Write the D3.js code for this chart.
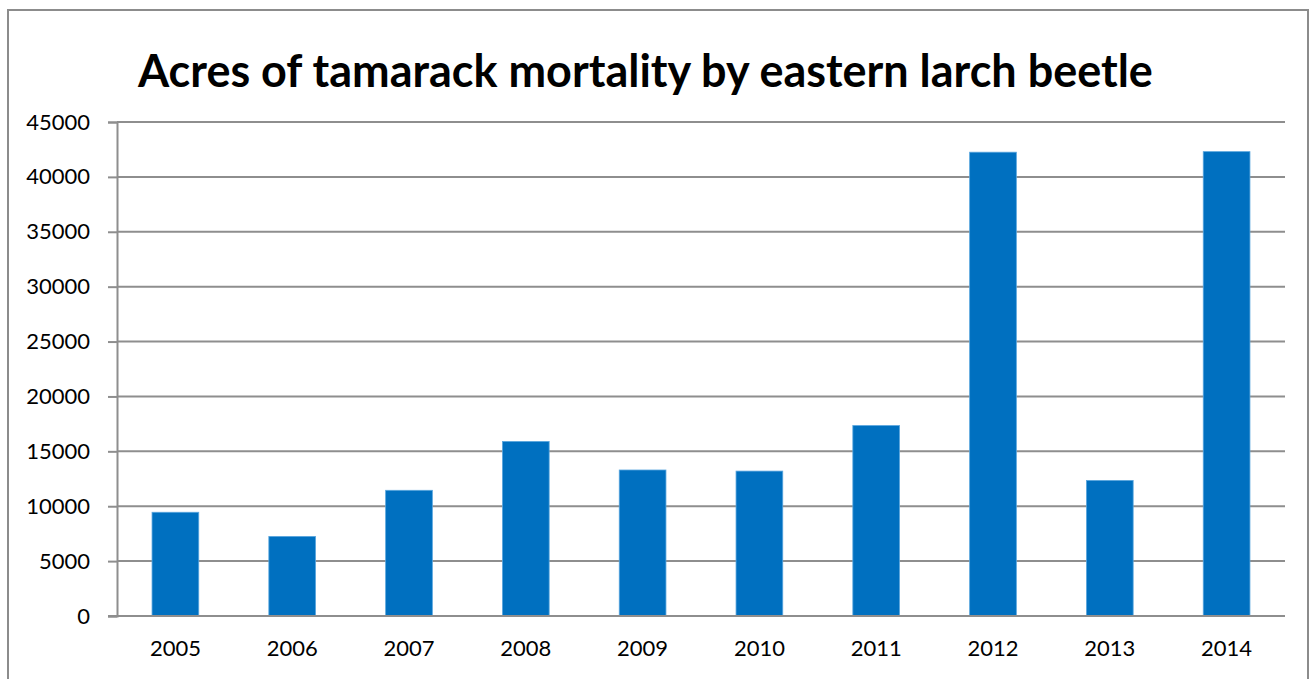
<!DOCTYPE html>
<html>
<head>
<meta charset="utf-8">
<script src="https://cdn.jsdelivr.net/npm/d3@7"></script>
<style>
  html, body { margin: 0; padding: 0; background: #fff; }
  svg { display: block; }
  text { font-family: Lato, "Open Sans", "Liberation Sans", sans-serif; fill: #000; }
</style>
</head>
<body>
<svg id="chart" width="1314" height="679"></svg>
<script>
// Acres of tamarack killed by eastern larch beetle, per survey year
const years = ["2005", "2006", "2007", "2008", "2009", "2010", "2011", "2012", "2013", "2014"];
const acres = [9450, 7250, 11450, 15900, 13300, 13200, 17350, 42250, 12350, 42300];
const yTicks = [0, 5000, 10000, 15000, 20000, 25000, 30000, 35000, 40000, 45000];
const titleText = "Acres of tamarack mortality by eastern larch beetle";

const svg = d3.select("#chart");
const W = 1314, H = 679;
const plot = { left: 117, right: 1285, top: 122, bottom: 616 };

// chart frame
svg.append("rect")
  .attr("x", 8).attr("y", 10)
  .attr("width", 1300).attr("height", H + 20)
  .attr("fill", "#fff")
  .attr("stroke", "#8c8c8c")
  .attr("stroke-width", 2);

const x = d3.scaleBand()
  .domain(years)
  .range([plot.left, plot.right])
  .paddingInner(0.6)
  .paddingOuter(0.3);

const y = d3.scaleLinear()
  .domain([0, 45000])
  .range([plot.bottom, plot.top]);

// horizontal gridlines
svg.append("g")
  .selectAll("line")
  .data(yTicks.filter(d => d > 0))
  .join("line")
  .attr("x1", plot.left).attr("x2", plot.right)
  .attr("y1", d => y(d)).attr("y2", d => y(d))
  .attr("stroke", "#8e8e8e")
  .attr("stroke-width", 2);

// y axis
const yAxis = svg.append("g")
  .attr("transform", `translate(${plot.left},0)`)
  .call(d3.axisLeft(y).tickValues(yTicks).tickSize(9).tickPadding(18).tickFormat(d3.format("d")));
yAxis.select(".domain").attr("stroke", "#8e8e8e").attr("stroke-width", 2);
yAxis.selectAll(".tick line").attr("stroke", "#8e8e8e").attr("stroke-width", 2);
yAxis.selectAll(".tick text")
  .attr("font-size", 22)
  .attr("font-family", "Lato, sans-serif")
  .attr("fill", "#000");

// bars
svg.append("g")
  .selectAll("rect")
  .data(years.map((yr, i) => ({ yr, v: acres[i] })))
  .join("rect")
  .attr("x", d => x(d.yr))
  .attr("y", d => y(d.v))
  .attr("width", x.bandwidth())
  .attr("height", d => y(0) - y(d.v))
  .attr("fill", "#0070c0")
  .attr("stroke", "#5aa6de")
  .attr("stroke-width", 0.8);

// x axis (baseline with labels)
const xAxis = svg.append("g")
  .attr("transform", `translate(0,${plot.bottom})`)
  .call(d3.axisBottom(x).tickSize(0).tickPadding(24));
xAxis.select(".domain").remove();
svg.append("line")
  .attr("x1", plot.left - 9).attr("x2", plot.right)
  .attr("y1", plot.bottom).attr("y2", plot.bottom)
  .attr("stroke", "#8e8e8e").attr("stroke-width", 2);
xAxis.selectAll(".tick text")
  .attr("font-size", 22)
  .attr("font-family", "Lato, sans-serif")
  .attr("fill", "#000");

// title, sized to span its slot
const title = svg.append("text")
  .attr("x", 138).attr("y", 87)
  .attr("font-weight", "bold")
  .attr("font-size", 40)
  .text(titleText);
const tw = title.node().getComputedTextLength();
title.attr("font-size", 40 * 1015 / tw);
</script>
</body>
</html>
